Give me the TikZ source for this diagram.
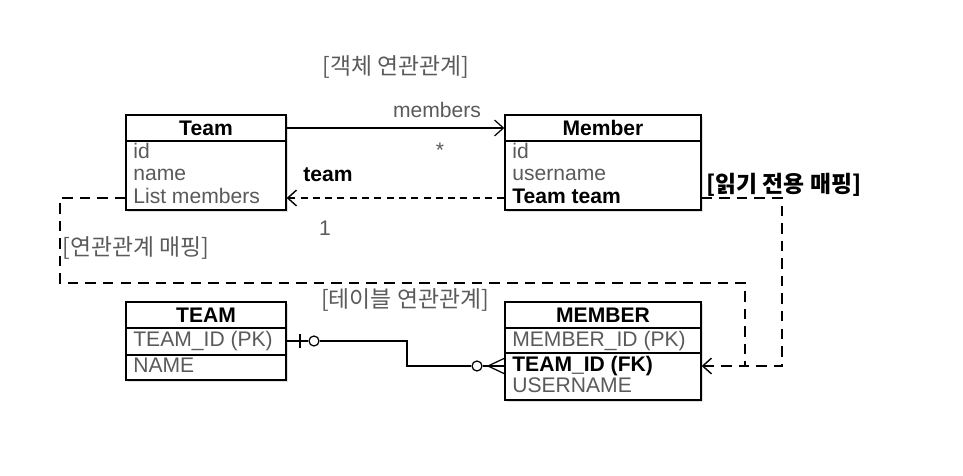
\documentclass[tikz,border=0pt]{standalone}
\usepackage{fontspec}
\setmainfont{Liberation Sans}
\newfontfamily\kr{Noto Sans CJK KR}
\usetikzlibrary{arrows.meta,shadows}
\definecolor{txtgray}{HTML}{5A5A5A}
\tikzset{
  box/.style={draw, line width=0.8pt, fill=white, inner sep=0pt,
    drop shadow={opacity=0.25, shadow xshift=1.2pt, shadow yshift=-1.2pt}},
  hdr/.style={font=\bfseries, inner sep=0pt},
  attr/.style={anchor=west, inner sep=0pt, text=txtgray, text height=9pt, text depth=2.5pt},
  keyattr/.style={attr, text=black, font=\bfseries},
  lbl/.style={inner sep=0pt, text=txtgray},
  krlbl/.style={inner sep=0pt, text=txtgray, font=\kr\fontsize{13}{15}\selectfont},
  sep/.style={line width=0.8pt},
  link/.style={line width=0.7pt},
  dline/.style={line width=0.8pt, dash pattern=on 6pt off 4pt},
  fine/.style={line width=0.8pt, dash pattern=on 4pt off 3pt},
  open/.style={-{Straight Barb[length=5pt,width=9pt]}},
  ring/.style={circle, draw, line width=0.7pt, fill=white, minimum size=0.2cm, inner sep=0pt}
}
\begin{document}
\fontsize{12}{14.4}\selectfont
\begin{tikzpicture}[x=0.02cm, y=-0.02cm]
    \useasboundingbox (0,0) rectangle (963,476);

    % Object model
    \node[box, minimum width=3.2cm, minimum height=1.9cm] (teambox) at (206,162.5) {};
    \node[box, minimum width=3.92cm, minimum height=1.9cm] (memberbox) at (603,162.5) {};
    \node[coordinate] (teamsep) at (126,141) {};
    \node[coordinate] (membersep) at (505,141) {};
    \draw[sep] (teamsep) -- (teamsep -| teambox.east);
    \draw[sep] (membersep) -- (membersep -| memberbox.east);

    \node[hdr] (teamh) at (206,128) {Team};
    \node[attr] (tid) at (133,153) {id};
    \node[attr] (tname) at (133,175) {name};
    \node[attr] (tlist) at (133,198) {List members};

    \node[hdr] (memberh) at (603,128) {Member};
    \node[attr] (mid) at (512,153) {id};
    \node[attr] (muser) at (512,175) {username};
    \node[keyattr] (mteam) at (512,198) {Team team};

    % Table model
    \node[box, minimum width=3.2cm, minimum height=1.56cm] (teamtbl) at (206,341) {};
    \node[box, minimum width=3.92cm, minimum height=1.96cm] (membertbl) at (603,351) {};
    \node[coordinate] (ts1) at (126,328) {};
    \node[coordinate] (ts2) at (126,355) {};
    \node[coordinate] (ms1) at (505,328) {};
    \node[coordinate] (ms2) at (505,353) {};
    \draw[sep] (ts1) -- (ts1 -| teamtbl.east);
    \draw[sep] (ts2) -- (ts2 -| teamtbl.east);
    \draw[sep] (ms1) -- (ms1 -| membertbl.east);
    \draw[sep] (ms2) -- (ms2 -| membertbl.east);

    \node[hdr] (tblteamh) at (206,315) {TEAM};
    \node[attr] (tpk) at (133,341) {TEAM\_ID (PK)};
    \node[attr] (tnm) at (133,367) {NAME};

    \node[hdr] (tblmemberh) at (603,315) {MEMBER};
    \node[attr] (mpk) at (512,341) {MEMBER\_ID (PK)};
    \node[keyattr] (mfk) at (512,366) {TEAM\_ID (FK)};
    \node[attr] (mun) at (512,387) {USERNAME};

    % Labels
    \node[krlbl] (objlbl) at (396,67) {[객체 연관관계]};
    \node[lbl] (memberslbl) at (437,110) {members};
    \node[lbl] (many) at (440,150) {*};
    \node[hdr] (teamlbl) at (328,175) {team};
    \node[lbl] (one) at (325,228) {1};
    \node[krlbl, anchor=west] (maplbl) at (62,248) {[연관관계 매핑]};
    \node[krlbl] (tbllbl) at (405,300) {[테이블 연관관계]};
    \node[krlbl, text=black, font=\kr\bfseries\fontsize{13}{15}\selectfont, anchor=west] (rolbl) at (706,185) {[읽기 전용 매핑]};

    % Object links
    \draw[link, open] (teamh -| teambox.east) -- (memberh -| memberbox.west);
    \draw[fine, open] (mteam -| memberbox.west) -- (tlist -| teambox.east);

    % Mapping loops
    \node[coordinate] (l1) at (60,198) {};
    \node[coordinate] (l2) at (60,283) {};
    \node[coordinate] (l3) at (745,283) {};
    \node[coordinate] (l4) at (745,366) {};
    \node[coordinate] (r1) at (782,198) {};
    \node[coordinate] (r2) at (782,366) {};
    \draw[dline] (tlist -| teambox.west) -- (l1) -- (l2) -- (l3) -- (l4);
    \draw[dline, open] (mteam -| memberbox.east) -- (r1) -- (r2) -- (mfk -| membertbl.east);

    % Foreign key
    \node[coordinate] (bar1) at (300,334) {};
    \node[coordinate] (bar2) at (300,348) {};
    \node[ring] (o1) at (314,341) {};
    \node[coordinate] (bend) at (407,341) {};
    \node[ring] (o2) at (477,366) {};
    \node[coordinate] (crow) at (488,366) {};
    \node[coordinate] (cf1) at (505,358) {};
    \node[coordinate] (cf2) at (505,374) {};
    \draw[link] (tpk -| teamtbl.east) -- (o1.west);
    \draw[link] (bar1) -- (bar2);
    \draw[link] (o1.east) -- (bend) |- (o2.west);
    \draw[link] (o2.east) -- (mfk -| membertbl.west);
    \draw[link] (crow) -- (cf1);
    \draw[link] (crow) -- (cf2);
\end{tikzpicture}
\end{document}
